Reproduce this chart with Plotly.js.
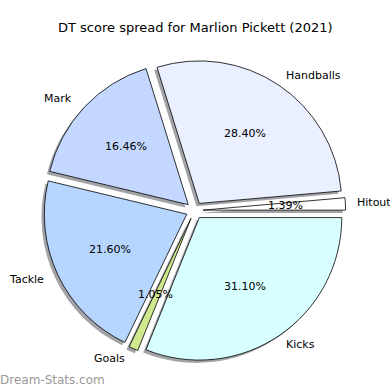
<!DOCTYPE html>
<html>
<head>
<meta charset="utf-8">
<script src="https://cdn.plot.ly/plotly-3.0.1.min.js"></script>
<style>html,body{margin:0;padding:0;background:#fff;}#chart{width:390px;height:390px;}</style>
</head>
<body>
<div id="chart"></div>
<script>
// Data
const labels = ["Hitout", "Handballs", "Mark", "Tackle", "Goals", "Kicks"];
const values = [1.39, 28.40, 16.46, 21.60, 1.05, 31.10];
const colors = ["#ffffff", "#eaf0ff", "#c4d8ff", "#b6d6ff", "#d0e88e", "#d8ffff"];
const titleText = "DT score spread for Marlion Pickett (2021)";
const watermark = "Dream-Stats.com";

// Geometry (pixels)
const W = 390, H = 390;
const cx = 193, cy = 210, r = 140, pull = 0.06;       // text placement
const pcx = 194.5, pcy = 210.5, pr = 142.5;            // drawn pie
const R = pr * (1 + pull);
const sh = 2.8; // shadow offset

function dom(ox, oy) {
  return {
    x: [(pcx + ox - R) / W, (pcx + ox + R) / W],
    y: [(H - (pcy + oy + R)) / H, (H - (pcy + oy - R)) / H]
  };
}

const total = values.reduce((a, b) => a + b, 0);
// counterclockwise pies in plotly end the first slice at `rotation`; shift so it starts at 3 o'clock
const rot = 90 - 360 * values[0] / total;
const pulls = values.map(() => pull);

const shadow = {
  type: "pie", values: values, labels: labels, sort: false,
  direction: "counterclockwise", rotation: rot,
  pull: pulls, textinfo: "none", hoverinfo: "skip",
  marker: {colors: values.map(() => "rgba(70,72,78,0.5)"), line: {width: 0}},
  domain: dom(-sh, sh), showlegend: false
};
const main = {
  type: "pie", values: values, labels: labels, sort: false,
  direction: "counterclockwise", rotation: rot,
  pull: pulls, textinfo: "none",
  marker: {colors: colors, line: {color: "#000000", width: 0.8}},
  domain: dom(0, 0), showlegend: false
};

// Labels and percentages placed like matplotlib (labeldistance 1.1, pctdistance 0.6)
const annotations = [];
let cum = 0;
values.forEach((v, i) => {
  const mid = (cum + v / 2) / total * 2 * Math.PI;
  cum += v;
  const c = Math.cos(mid), s = Math.sin(mid);
  const ox = pull * r * c, oy = pull * r * s;
  const lx = cx + ox + 1.1 * r * c, ly = cy - oy - 1.1 * r * s;
  annotations.push({
    x: lx / W, y: (H - ly) / H, xref: "paper", yref: "paper",
    text: labels[i], showarrow: false,
    xanchor: c >= 0 ? "left" : "right", yanchor: "middle",
    font: {family: "DejaVu Sans", size: 11, color: "#000"}
  });
  const px = cx + ox + 0.6 * r * c, py = cy - oy - 0.6 * r * s;
  annotations.push({
    x: px / W, y: (H - py) / H, xref: "paper", yref: "paper",
    text: v.toFixed(2) + "%", showarrow: false,
    xanchor: "center", yanchor: "middle",
    font: {family: "DejaVu Sans", size: 11, color: "#000"}
  });
});
annotations.push({
  x: -2 / W, y: (H - 380) / H, xref: "paper", yref: "paper",
  text: watermark, showarrow: false, xanchor: "left", yanchor: "middle",
  font: {family: "DejaVu Sans", size: 12, color: "#999999"}
});
annotations.push({
  x: 0.5, y: (H - 28) / H, xref: "paper", yref: "paper",
  text: titleText, showarrow: false, xanchor: "center", yanchor: "middle",
  font: {family: "DejaVu Sans", size: 13, color: "#000"}
});

const layout = {
  width: W, height: H,
  margin: {l: 0, r: 0, t: 0, b: 0},
  paper_bgcolor: "#ffffff", plot_bgcolor: "#ffffff",
  annotations: annotations,
  showlegend: false
};

Plotly.newPlot("chart", [shadow, main], layout, {displayModeBar: false, staticPlot: true});
</script>
</body>
</html>
